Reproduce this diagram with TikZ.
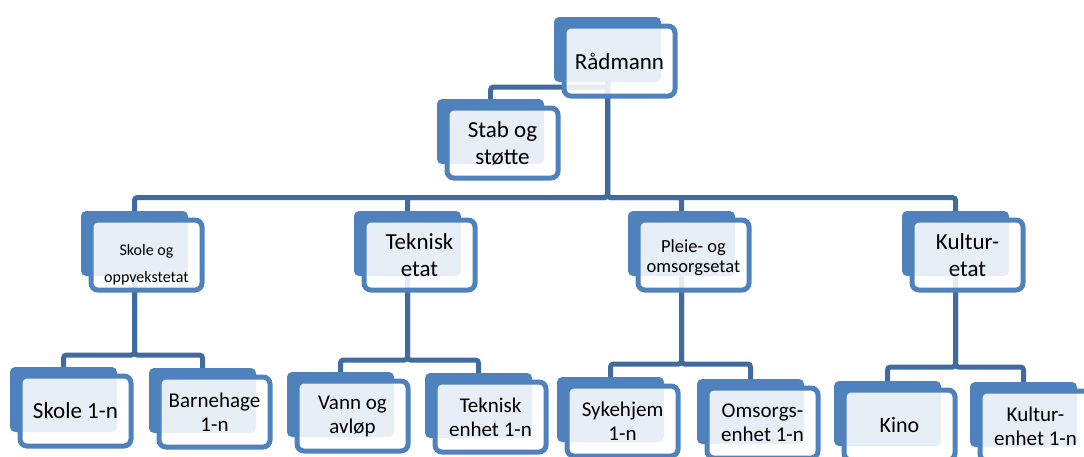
\documentclass[tikz,border=0pt]{standalone}
\usepackage{fontspec}
\setmainfont{Carlito}
\definecolor{boxblue}{RGB}{79,129,189}
\definecolor{connblue}{RGB}{65,106,158}
\pgfdeclarelayer{background}
\pgfsetlayers{background,main}
\newcommand{\lvlfont}{\fontsize{23}{27}\selectfont}
\newcommand{\leaffont}{\fontsize{21}{24}\selectfont}

\begin{document}
\begin{tikzpicture}[x=1pt, y=-1pt,
    backbox/.style={fill=boxblue, rounded corners=5pt, minimum width=107pt, minimum height=65pt, inner sep=0pt},
    unit/.style={draw=boxblue, line width=5pt, rounded corners=7pt, fill=white, fill opacity=0.87, text opacity=1,
      minimum width=111pt, minimum height=70pt, inner sep=0pt, align=center, font=\lvlfont},
    leaf/.style={unit, font=\leaffont},
    conn/.style={draw=connblue, line width=5pt, rounded corners=3pt}]
  \path[use as bounding box] (0,0) rectangle (1084,456);
  \clip (0,0) rectangle (1084,456);

  % top
  \node[backbox] (rad) at (607.5,49.5) {};
  \node[unit] (rad-f) at ([shift={(12,11.5)}]rad.center) {Rådmann};
  \node[backbox] (stab) at (490.5,131.5) {};
  \node[unit] (stab-f) at ([shift={(12,11.5)}]stab.center) {Stab og\\støtte};

  % etater
  \node[backbox] (skole) at (134.5,243.5) {};
  \node[unit, font=\fontsize{16}{27}\selectfont] (skole-f) at ([shift={(12,11.5)}]skole.center) {\rule{0pt}{30pt}Skole og\\oppvekstetat};
  \node[backbox] (tek) at (407.5,243.5) {};
  \node[unit] (tek-f) at ([shift={(12,11.5)}]tek.center) {Teknisk\\etat};
  \node[backbox] (pleie) at (681.5,243.5) {};
  \node[unit, font=\fontsize{18.5}{20}\selectfont] (pleie-f) at ([shift={(12,11.5)}]pleie.center) {\rule{0pt}{18pt}Pleie- og\\omsorgsetat};
  \node[backbox] (kultur) at (955.5,243.5) {};
  \node[unit] (kultur-f) at ([shift={(12,11.5)}]kultur.center) {Kultur-\\etat};

  % enheter
  \node[backbox] (sk1) at (63.5,399.5) {};
  \node[leaf, font=\fontsize{23}{27}\selectfont] (sk1-f) at ([shift={(12,11.5)}]sk1.center) {Skole 1-n};
  \node[backbox] (bh) at (202.5,400.5) {};
  \node[leaf] (bh-f) at ([shift={(12,11.5)}]bh.center) {Barnehage\\1-n};
  \node[backbox] (vann) at (340.5,404.5) {};
  \node[leaf] (vann-f) at ([shift={(12,11.5)}]vann.center) {Vann og\\avløp};
  \node[backbox] (tenh) at (478.5,405.5) {};
  \node[leaf] (tenh-f) at ([shift={(12,11.5)}]tenh.center) {Teknisk\\enhet 1-n};
  \node[backbox] (syk) at (610.5,409.5) {};
  \node[leaf] (syk-f) at ([shift={(12,11.5)}]syk.center) {Sykehjem\\1-n};
  \node[backbox] (oms) at (750.5,411.5) {};
  \node[leaf] (oms-f) at ([shift={(12,11.5)}]oms.center) {Omsorgs-\\enhet 1-n};
  \node[backbox] (kino) at (887.5,413.5) {};
  \node[leaf, font=\fontsize{22}{26}\selectfont] (kino-f) at ([shift={(12,11.5)}]kino.center) {Kino};
  \node[backbox] (kenh) at (1023.5,414.5) {};
  \node[leaf] (kenh-f) at ([shift={(12,11.5)}]kenh.center) {Kultur-\\enhet 1-n};

  \begin{pgfonlayer}{background}
    \draw[conn] (rad.center) -- ++(0,37.5) -| (stab.north);
    \foreach \c in {skole,tek,pleie,kultur}
      \draw[conn] (rad.center) -- ++(0,148) -| (\c.north);
    \foreach \p/\d/\a/\b in {skole/111.5/sk1/bh, tek/116.5/vann/tenh, pleie/120.5/syk/oms, kultur/123.5/kino/kenh} {
      \draw[conn] (\p.center) -- ++(0,\d) -| (\a.north);
      \draw[conn] (\p.center) -- ++(0,\d) -| (\b.north);
    }
  \end{pgfonlayer}
\end{tikzpicture}
\end{document}
